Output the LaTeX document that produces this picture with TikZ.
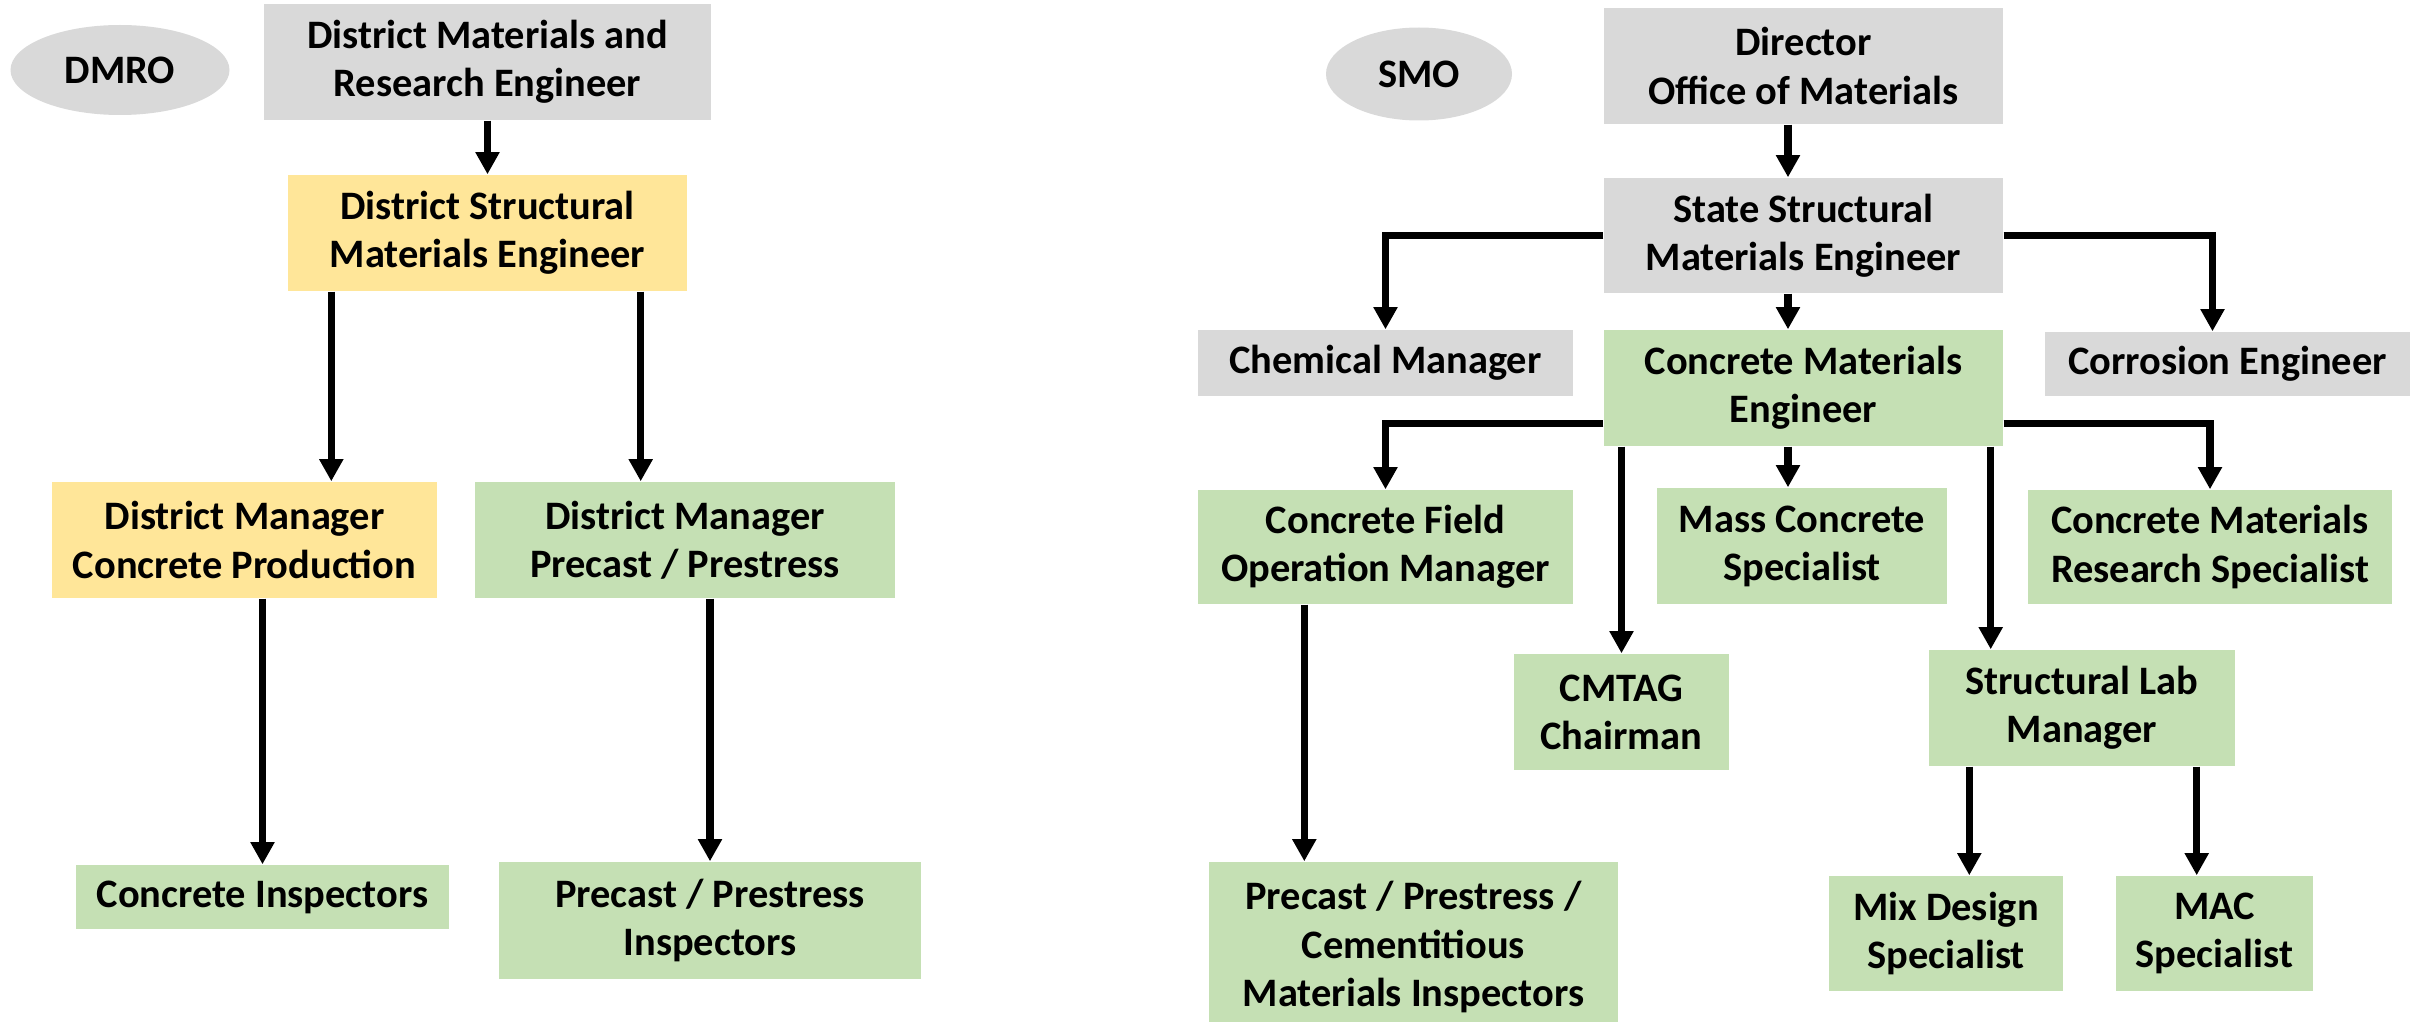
\documentclass[tikz,border=0pt]{standalone}
\usepackage{fontspec}
\setmainfont{Carlito}
\usetikzlibrary{arrows.meta,shapes.geometric}

\definecolor{boxgrey}{HTML}{D9D9D9}
\definecolor{boxgold}{HTML}{FFE699}
\definecolor{boxgreen}{HTML}{C5E0B4}

\begin{document}
\begin{tikzpicture}
     [
     every node/.style={font=\fontsize{11.5}{13.7}\selectfont\bfseries, align=center, inner sep=0pt},
     post/.style={rectangle, minimum height=1.16cm},
     greybox/.style={post, fill=boxgrey},
     goldbox/.style={post, fill=boxgold},
     greenbox/.style={post, fill=boxgreen},
     office/.style={ellipse, fill=boxgrey},
     arr/.style={line width=2.1pt, -{Triangle[width=6.5pt,length=6.3pt]}}
     ]
     \useasboundingbox (0,0) rectangle (24.12,-10.22);

     % district side
     \node[office, minimum width=2.19cm, minimum height=0.90cm] (dmro) at (1.20,-0.70) {DMRO};
     \node[greybox, minimum width=4.47cm] (dmre) at (4.875,-0.62) {District Materials and\\Research Engineer};
     \node[goldbox, minimum width=3.99cm] (dsme) at (4.875,-2.33) {District Structural\\Materials Engineer};
     \node[goldbox, minimum width=3.85cm] (dmcp) at (2.445,-5.40) {District Manager\\Concrete Production};
     \node[greenbox, minimum width=4.20cm] (dmpp) at (6.85,-5.40) {District Manager\\Precast / Prestress};
     \node[greenbox, minimum width=3.73cm, minimum height=0.64cm] (ci) at (2.625,-8.97) {Concrete Inspectors};
     \node[greenbox, minimum width=4.22cm, minimum height=1.17cm] (ppi) at (7.10,-9.205) {Precast / Prestress\\Inspectors};

     \draw[arr] (dmre.south) -- (dsme.north);
     \draw[arr] ([xshift=0.44cm]dsme.south west) -- ([xshift=0.44cm]dsme.south west |- dmcp.north);
     \draw[arr] ([xshift=-0.47cm]dsme.south east) -- ([xshift=-0.47cm]dsme.south east |- dmpp.north);
     \draw[arr] (ci.north |- dmcp.south) -- (ci.north);
     \draw[arr] (ppi.north |- dmpp.south) -- (ppi.north);

     % state side
     \node[office, minimum width=1.86cm, minimum height=0.93cm] (smo) at (14.19,-0.74) {SMO};
     \node[greybox, minimum width=3.99cm] (dir) at (18.035,-0.66) {Director\\Office of Materials};
     \node[greybox, minimum width=3.99cm, minimum height=1.15cm] (ssme) at (18.035,-2.355) {State Structural\\Materials Engineer};
     \node[greybox, minimum width=3.75cm, minimum height=0.66cm] (chem) at (13.855,-3.63) {Chemical Manager};
     \node[greenbox, minimum width=3.99cm] (cme) at (18.035,-3.88) {Concrete Materials\\Engineer};
     \node[greybox, minimum width=3.65cm, minimum height=0.64cm] (corr) at (22.275,-3.64) {Corrosion Engineer};
     \node[greenbox, minimum width=3.75cm, minimum height=1.14cm] (cfom) at (13.855,-5.47) {Concrete Field\\Operation Manager};
     \node[greenbox, minimum width=2.90cm] (mcs) at (18.02,-5.46) {Mass Concrete\\Specialist};
     \node[greenbox, minimum width=3.64cm, minimum height=1.14cm] (cmrs) at (22.10,-5.47) {Concrete Materials\\Research Specialist};
     \node[greenbox, minimum width=2.15cm] (cmtag) at (16.215,-7.12) {CMTAG\\Chairman};
     \node[greenbox, minimum width=3.06cm] (slm) at (20.82,-7.08) {Structural Lab\\Manager};
     \node[greenbox, minimum width=4.09cm, minimum height=1.70cm] (ppcmi) at (14.135,-9.47) {Precast / Prestress /\\Cementitious\\Materials Inspectors};
     \node[greenbox, minimum width=2.34cm, minimum height=1.15cm] (mds) at (19.46,-9.335) {Mix Design\\Specialist};
     \node[greenbox, minimum width=1.97cm, minimum height=1.15cm] (mac) at (22.145,-9.335) {MAC\\Specialist};

     \draw[arr] ([xshift=-0.155cm]dir.south) -- ([xshift=-0.155cm]ssme.north);
     \draw[arr] ([xshift=-0.155cm]ssme.south) -- ([xshift=-0.155cm]cme.north);
     \draw[arr] (ssme.west) -| (chem.north);
     \draw[arr] (ssme.east) -| ([xshift=-0.15cm]corr.north);
     \draw[arr] ([yshift=0.23cm]cme.south west) -| (cfom.north);
     \draw[arr] ([yshift=0.23cm]cme.south east) -| (cmrs.north);
     \draw[arr] ([xshift=-0.155cm]cme.south) -- ([xshift=-0.155cm]cme.south |- mcs.north);
     \draw[arr] (cmtag.north |- cme.south) -- (cmtag.north);
     \draw[arr] ([xshift=-0.13cm]cme.south east) -- ([xshift=-0.13cm]cme.south east |- slm.north);
     \draw[arr] ([xshift=1.07cm]cfom.south west) -- ([xshift=1.07cm]cfom.south west |- ppcmi.north);
     \draw[arr] ([xshift=0.41cm]slm.south west) -- ([xshift=0.41cm]slm.south west |- mds.north);
     \draw[arr] ([xshift=-0.39cm]slm.south east) -- ([xshift=-0.39cm]slm.south east |- mac.north);
\end{tikzpicture}
\end{document}
